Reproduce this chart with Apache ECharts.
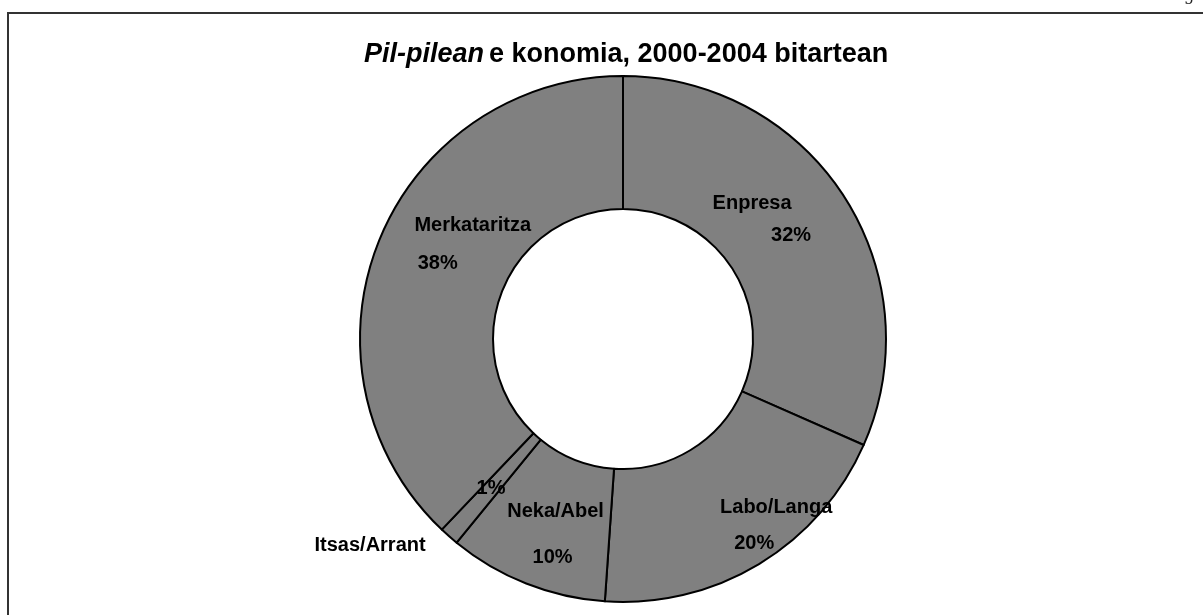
<!DOCTYPE html>
<html>
<head>
<meta charset="utf-8">
<script src="https://cdn.jsdelivr.net/npm/echarts@6/dist/echarts.min.js"></script>
<style>
  html, body { margin: 0; padding: 0; background: #fff; }
  #container { width: 1203px; height: 615px; }
</style>
</head>
<body>
<div id="container"></div>
<script>
// sectors, clockwise from 12 o'clock
const sectors = ['Enpresa', 'Labo/Langa', 'Neka/Abel', 'Itsas/Arrant', 'Merkataritza'];
const shares = [31.6, 19.5, 9.8, 1.2, 37.9];

// label nudges away from the default inside spot (Excel placed them by hand)
const nameNudge = [[-38, -27], [50, -2], [6, -13], [-121, 57], [35, -39]];
const pctNudge = [[1, 5], [28, 34], [3, 33], [0, 0], [0, -1]];

const labelFont = {
    fontFamily: '"Liberation Sans", Arial, sans-serif',
    fontWeight: 'bold',
    fontSize: 20,
    color: '#000'
};

const pieBase = {
    type: 'pie',
    center: [623, 339],
    radius: [130, 263],
    startAngle: 90,
    clockwise: true,
    avoidLabelOverlap: false,
    labelLine: { show: false },
    emphasis: { disabled: true },
    animation: false
};

const myChart = echarts.init(document.getElementById('container'));

const option = {
    backgroundColor: '#fff',
    title: {
        text: '{i|Pil-pilean} {b|e konomia, 2000-2004 bitartean}',
        left: 359,
        top: 36,
        textStyle: {
            rich: {
                i: { fontFamily: '"Liberation Sans", Arial, sans-serif', fontStyle: 'italic', fontWeight: 'bold', fontSize: 27, color: '#000' },
                b: { fontFamily: '"Liberation Sans", Arial, sans-serif', fontWeight: 'bold', fontSize: 27, color: '#000' }
            }
        }
    },
    graphic: [
        {
            type: 'polyline',
            shape: { points: [[8, 615], [8, 13], [1203, 13]] },
            style: { stroke: '#333', lineWidth: 2, fill: null }
        },
        {
            type: 'text',
            left: 1184,
            top: -12,
            style: { text: 'g', font: '16px "DejaVu Serif", serif', fill: '#222' }
        }
    ],
    series: [
        Object.assign({}, pieBase, {
            itemStyle: { color: '#808080', borderColor: '#000', borderWidth: 2 },
            label: Object.assign({ show: true, position: 'inside', formatter: '{b}' }, labelFont),
            data: sectors.map((name, i) => ({
                name: name,
                value: shares[i],
                label: { offset: nameNudge[i] }
            }))
        }),
        Object.assign({}, pieBase, {
            silent: true,
            itemStyle: { color: 'rgba(0,0,0,0)', borderWidth: 0 },
            label: Object.assign({
                show: true,
                position: 'inside',
                formatter: p => Math.round(p.percent) + '%'
            }, labelFont),
            data: sectors.map((name, i) => ({
                name: name,
                value: shares[i],
                label: { offset: pctNudge[i] }
            }))
        })
    ]
};

myChart.setOption(option);
</script>
</body>
</html>
